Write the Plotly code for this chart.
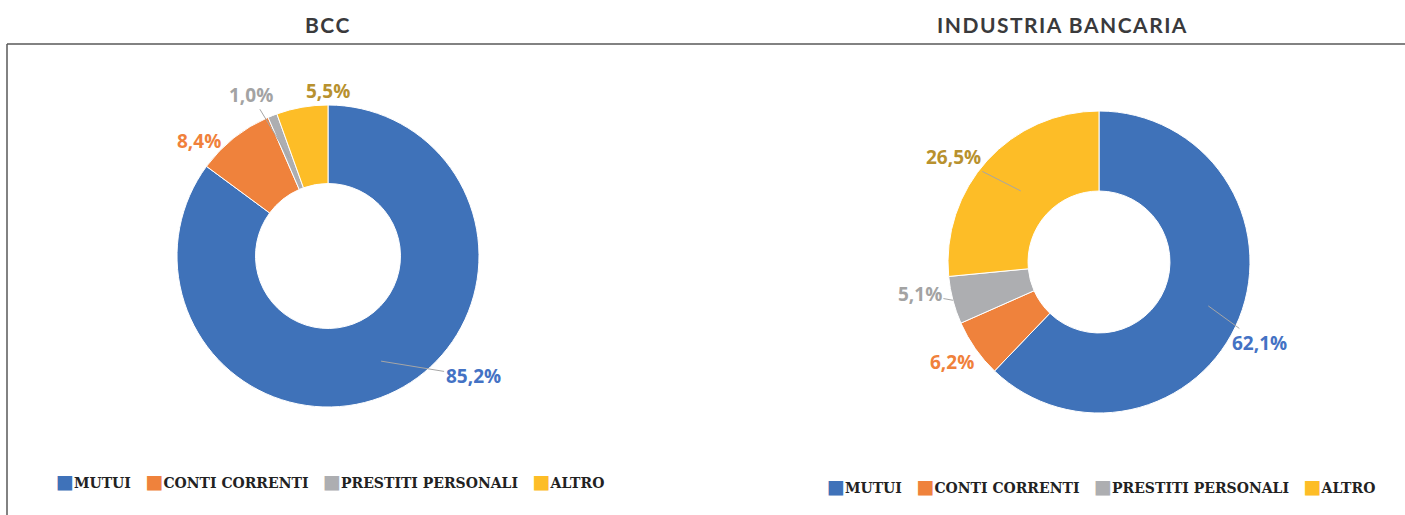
import math
import plotly.graph_objects as go

# ---------------- data ----------------
categories = ["MUTUI", "CONTI CORRENTI", "PRESTITI PERSONALI", "ALTRO"]
bcc_values = [85.2, 8.4, 1.0, 5.5]
industria_values = [62.1, 6.2, 5.1, 26.5]
bcc_text = ["85,2%", "8,4%", "1,0%", "5,5%"]
industria_text = ["62,1%", "6,2%", "5,1%", "26,5%"]
titles = ["BCC", "INDUSTRIA BANCARIA"]

# ---------------- style ----------------
W, H = 1405, 515
slice_colors = ["#3F72B9", "#EF823C", "#ADAEB1", "#FDBD27"]
label_colors = ["#4472C4", "#F0813B", "#A3A3A3", "#B8912E"]
leader_color = "#A6A6A6"
R = 151

charts = [
    dict(values=bcc_values, text=bcc_text, title=titles[0], cx=328, cy=256, hole=0.48,
         title_x=328,
         # (radial fraction of tip, text offset px, show leader)
         lab=[(0.78, 92, 15, True), (1.0, -35, 3, False), (0.7, -38, -63, True), (1.0, 26, -16, False)],
         legend_x=330, legend_y=481, gap="&nbsp;&nbsp;&nbsp;"),
    dict(values=industria_values, text=industria_text, title=titles[1], cx=1099, cy=262, hole=0.47,
         title_x=1062,
         lab=[(0.78, 51, 37, True), (1.0, -23, 13, False), (1.0, -33, -6, True), (0.7, -67, -34, True)],
         legend_x=1101, legend_y=486, gap="&nbsp;&nbsp;&nbsp;"),
]

fig = go.Figure()
annotations = []
for ch in charts:
    cx, cy = ch["cx"], ch["cy"]
    fig.add_trace(go.Pie(
        labels=categories, values=ch["values"], hole=ch["hole"],
        sort=False, direction="clockwise", rotation=0,
        marker=dict(colors=slice_colors, line=dict(color="white", width=1)),
        textinfo="none", hoverinfo="label+percent", showlegend=False,
        domain=dict(x=[(cx - R) / W, (cx + R) / W], y=[(H - cy - R) / H, (H - cy + R) / H]),
    ))
    total = sum(ch["values"])
    cum = 0.0
    for i, v in enumerate(ch["values"]):
        mid = (cum + v / 2) / total
        cum += v
        th = 2 * math.pi * mid
        k, ax, ay, leader = ch["lab"][i]
        px = cx + R * k * math.sin(th)
        py = cy - R * k * math.cos(th)
        annotations.append(dict(
            x=px / W, y=(H - py) / H, xref="paper", yref="paper",
            text="<b>" + ch["text"][i] + "</b>", showarrow=True, ax=ax, ay=ay,
            xanchor="center", yanchor="middle",
            arrowhead=0, arrowwidth=1, standoff=0,
            arrowcolor=leader_color if leader else "rgba(0,0,0,0)",
            font=dict(family="Open Sans", size=19, color=label_colors[i]),
        ))
    # title
    annotations.append(dict(
        x=ch["title_x"] / W, y=(H - 24) / H, xref="paper", yref="paper",
        xanchor="center", yanchor="middle",
        text='<b><span style="letter-spacing:1.5px">' + ch["title"] + "</span></b>", showarrow=False,
        font=dict(family="Lato", size=21, color="#3A3A3C"),
    ))
    # legend
    items = []
    for c, name in zip(slice_colors, categories):
        items.append('<span style="color:%s;font-size:19px">■</span>%s' % (c, name))
    annotations.append(dict(
        x=ch["legend_x"] / W, y=(H - ch["legend_y"]) / H, xref="paper", yref="paper",
        xanchor="center", yanchor="middle",
        text="<b>" + ch["gap"].join(items) + "</b>", showarrow=False,
        font=dict(family="DejaVu Serif", size=14, color="#222222"),
    ))

shapes = [
    dict(type="line", xref="paper", yref="paper", x0=7 / W, x1=1.0, y0=(H - 44) / H, y1=(H - 44) / H,
         line=dict(color="#595959", width=1.5)),
    dict(type="line", xref="paper", yref="paper", x0=7 / W, x1=7 / W, y0=0, y1=(H - 44) / H,
         line=dict(color="#595959", width=1.5)),
]

fig.update_layout(
    width=W, height=H, margin=dict(l=0, r=0, t=0, b=0),
    paper_bgcolor="white", plot_bgcolor="white",
    annotations=annotations, shapes=shapes, showlegend=False,
)
fig.write_html("out.html", config={"displayModeBar": False},
               post_script="document.body.style.margin='0';document.body.style.overflow='hidden';")
